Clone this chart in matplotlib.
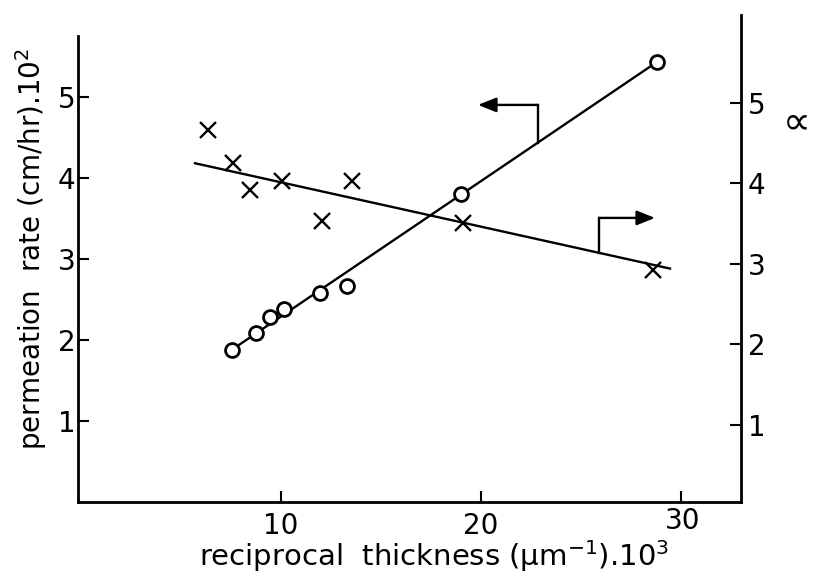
import numpy as np
import matplotlib.pyplot as plt
from matplotlib import transforms

# reciprocal thickness (1/um x 10^3) vs permeation rate (cm/hr x 10^2)
perm_x = [7.55, 8.75, 9.45, 10.15, 11.95, 13.3, 19.0, 28.8]
perm_y = [1.88, 2.09, 2.28, 2.38, 2.58, 2.67, 3.80, 5.43]

# separation factor for the same films
alpha_x = [6.35, 7.6, 8.45, 10.05, 12.05, 13.55, 19.1, 28.6]
alpha_y = [4.66, 4.25, 3.92, 4.03, 3.53, 4.03, 3.51, 2.92]

# end points of the drawn lines
perm_fit_x = [7.55, 28.8]
perm_fit_y = [1.88, 5.43]
alpha_fit_x = [5.7, 29.45]
alpha_fit_y = [4.25, 2.94]

x_ticks = [10, 20, 30]
y_ticks = [1, 2, 3, 4, 5]

plt.rcParams['font.family'] = 'DejaVu Sans'
fs = 20

fig = plt.figure(figsize=(8.15, 5.73), dpi=100)
ax = fig.add_axes([0.0957, 0.1239, 0.8135, 0.850])
ax2 = ax.twinx()

ax.set_xlim(-0.15, 33.0)
ax.set_ylim(0, 6.01)
ax2.set_ylim(0.037, 6.094)

# permeation rate: circles on a straight line
ax.plot(perm_fit_x, perm_fit_y, color='black', lw=1.7, zorder=2)
ax.plot(perm_x, perm_y, 'o', ms=10, mfc='white', mec='black', mew=2.0, zorder=3)

# separation factor: crosses on a straight line
ax2.plot(alpha_fit_x, alpha_fit_y, color='black', lw=1.7, zorder=2)
ax2.plot(alpha_x, alpha_y, 'x', ms=11, mec='black', mew=1.7, zorder=3)

# arrows pointing each line to its axis
arr = dict(arrowstyle='-|>,head_length=0.55,head_width=0.22', color='black',
           lw=1.7, mutation_scale=20, shrinkA=0, shrinkB=0)
xa = 22.85
ya = np.interp(xa, perm_fit_x, perm_fit_y)
ax.plot([xa, xa], [ya, 4.90], color='black', lw=1.7)
ax.annotate('', xy=(19.85, 4.90), xytext=(xa, 4.90), arrowprops=arr)

xb = 25.9
yb = np.interp(xb, alpha_fit_x, alpha_fit_y)
ax2.plot([xb, xb], [yb, 3.57], color='black', lw=1.7)
ax2.annotate('', xy=(28.7, 3.57), xytext=(xb, 3.57), arrowprops=arr)

for s in ['top', 'right']:
    ax.spines[s].set_visible(False)
for s in ['top', 'left', 'bottom']:
    ax2.spines[s].set_visible(False)
ax.spines['left'].set_bounds(0, 5.75)
for s in [ax.spines['left'], ax.spines['bottom'], ax2.spines['right']]:
    s.set_linewidth(2.0)

ax.set_xticks(x_ticks)
ax.set_xticklabels([str(t) for t in x_ticks])
ax.set_yticks(y_ticks)
ax.set_yticklabels([str(t) for t in y_ticks])
ax2.set_yticks(y_ticks)
ax2.set_yticklabels([str(t) for t in y_ticks])
ax.tick_params(axis='both', direction='in', length=8, width=1.5, labelsize=fs)
ax.tick_params(axis='y', pad=2)
ax.tick_params(axis='x', pad=7)
ax2.tick_params(axis='y', direction='in', length=8, width=1.5, labelsize=fs, pad=5)

# the last x label sits a bit higher
lab30 = ax.get_xticklabels()[-1]
lab30.set_transform(lab30.get_transform() +
                    transforms.ScaledTranslation(0.02, 0.05, fig.dpi_scale_trans))

ax.set_xlabel('reciprocal  thickness (μm$^{-1}$).10$^3$', fontsize=21)
ax.xaxis.set_label_coords(0.537, -0.075)
ax.set_ylabel('permeation  rate (cm/hr).10$^2$', fontsize=fs)
ax.yaxis.set_label_coords(-0.044, 0.52)
fig.text(0.978, 0.787, '∝', fontsize=28, ha='center', va='center')

fig.savefig('out.png', dpi=100)
